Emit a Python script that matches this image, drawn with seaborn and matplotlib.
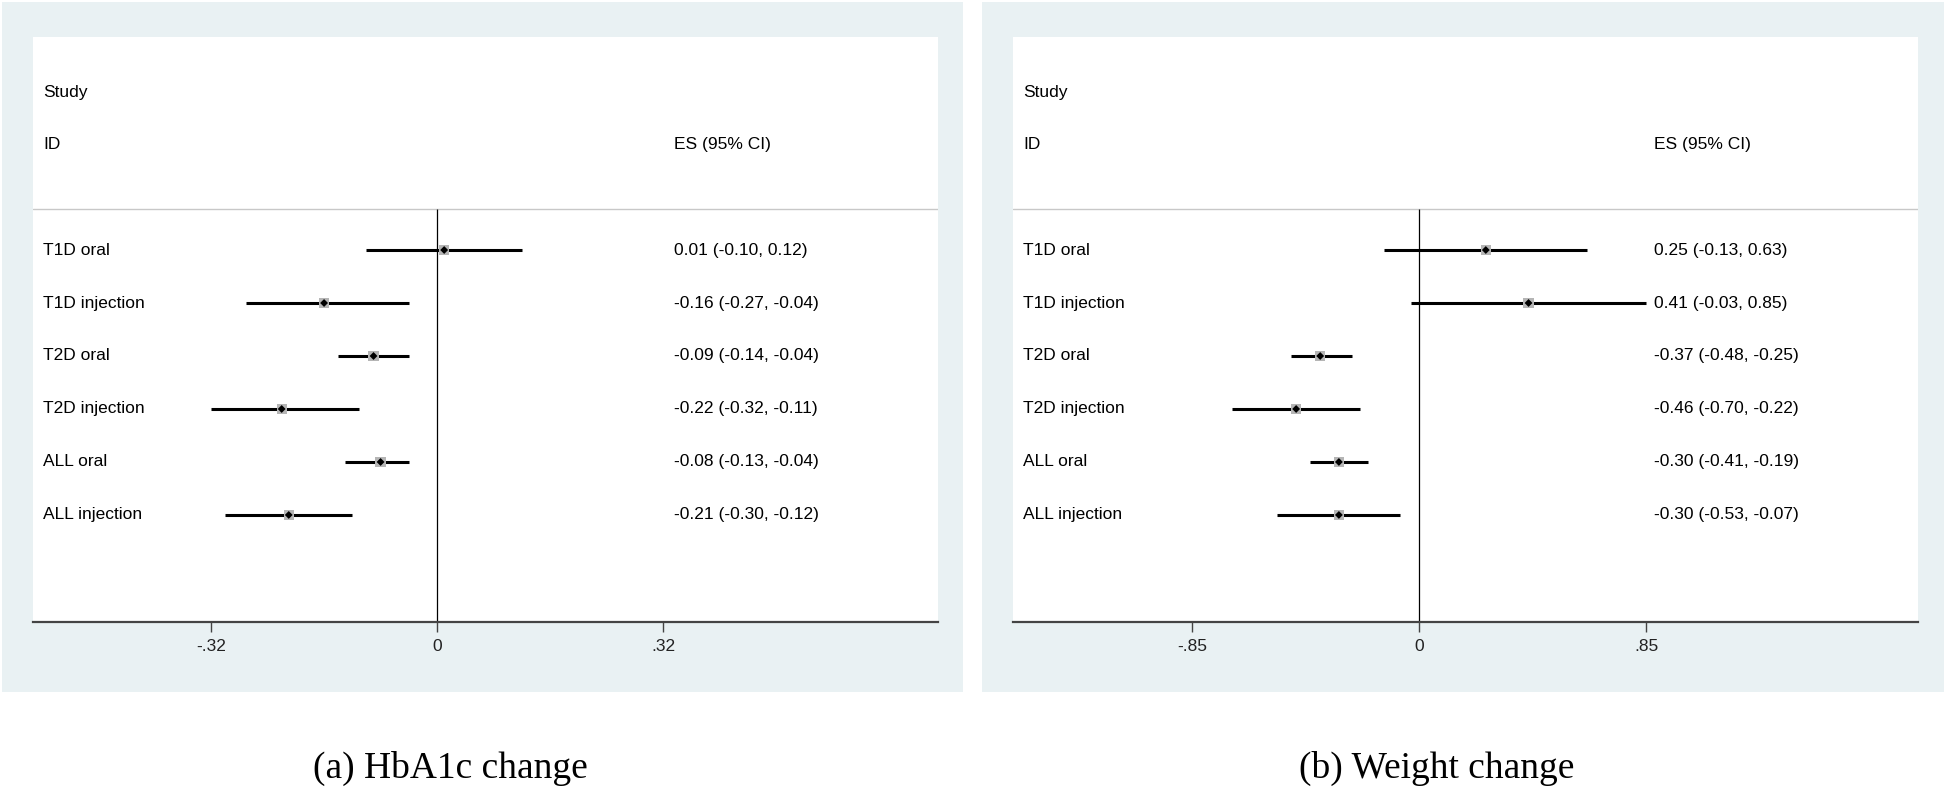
import numpy as np
import pandas as pd
import matplotlib
matplotlib.use('Agg')
import matplotlib.pyplot as plt
from matplotlib.patches import Rectangle
import seaborn as sns

# 数据
studies = ['T1D oral', 'T1D injection', 'T2D oral', 'T2D injection', 'ALL oral', 'ALL injection']

hba1c_es = [0.01, -0.16, -0.09, -0.22, -0.08, -0.21]
hba1c_lo = [-0.10, -0.27, -0.14, -0.32, -0.13, -0.30]
hba1c_hi = [0.12, -0.04, -0.04, -0.11, -0.04, -0.12]
hba1c_ticks = [-0.32, 0, 0.32]
hba1c_ticklabels = ['-.32', '0', '.32']

weight_es = [0.25, 0.41, -0.37, -0.46, -0.30, -0.30]
weight_lo = [-0.13, -0.03, -0.48, -0.70, -0.41, -0.53]
weight_hi = [0.63, 0.85, -0.25, -0.22, -0.19, -0.07]
weight_ticks = [-0.85, 0, 0.85]
weight_ticklabels = ['-.85', '0', '.85']

captions = ['(a) HbA1c change', '(b) Weight change']

sns.set_theme(style='white')
plt.rcParams['font.family'] = ['Liberation Sans', 'DejaVu Sans']
plt.rcParams['text.color'] = 'black'

W, H = 1946, 788
BG = '#e9f1f3'
FS = 12.5


def px_box(x0, y0, x1, y1):
    """像素坐标 -> figure 坐标"""
    return [x0 / W, 1 - y1 / H, (x1 - x0) / W, (y1 - y0) / H]


def draw_forest(ax, es, lo, hi, ticks, ticklabels, xlim):
    df = pd.DataFrame({'study': studies, 'es': es, 'lo': lo, 'hi': hi,
                       'row': np.arange(len(studies))})
    sep = -0.77

    ax.axhline(sep, color='#c8c8c8', lw=1.0, zorder=1)
    ax.vlines(0, sep, 7.02, color='black', lw=0.9, zorder=2)
    ax.hlines(df['row'], df['lo'], df['hi'], color='black', lw=2.2, zorder=3)
    sns.scatterplot(data=df, x='es', y='row', marker='s', s=55, color='#b5b5b5',
                    edgecolor='none', ax=ax, zorder=4, legend=False)
    sns.scatterplot(data=df, x='es', y='row', marker='D', s=16, color='black',
                    edgecolor='none', ax=ax, zorder=5, legend=False)
    ax.set_xlim(*xlim)
    ax.set_ylim(7.02, -4.02)

    tr = ax.get_yaxis_transform()
    ax.text(0.011, -2.98, 'Study', transform=tr, fontsize=FS, va='center')
    ax.text(0.011, -2.0, 'ID', transform=tr, fontsize=FS, va='center')
    ax.text(0.708, -2.0, 'ES (95% CI)', transform=tr, fontsize=FS, va='center')
    for _, r in df.iterrows():
        ax.text(0.011, r['row'], r['study'], transform=tr, fontsize=FS, va='center')
        ax.text(0.708, r['row'], f"{r['es']:.2f} ({r['lo']:.2f}, {r['hi']:.2f})",
                transform=tr, fontsize=FS, va='center')

    ax.set_xticks(ticks)
    ax.set_xticklabels(ticklabels, fontsize=FS, color='#222222')
    ax.set_yticks([])
    ax.set_xlabel('')
    ax.set_ylabel('')
    for s in ['top', 'left', 'right']:
        ax.spines[s].set_visible(False)
    ax.spines['bottom'].set_color('#444444')
    ax.spines['bottom'].set_linewidth(1.6)
    ax.tick_params(axis='x', direction='out', length=7, width=1.0, color='#444444',
                   bottom=True, pad=5)
    ax.set_facecolor('white')


fig = plt.figure(figsize=(W / 100, H / 100), dpi=100, facecolor='white')

# 背景面板
for x0, x1 in [(2, 963), (982, 1944)]:
    b = px_box(x0, 2, x1, 692)
    fig.patches.append(Rectangle((b[0], b[1]), b[2], b[3], transform=fig.transFigure,
                                 facecolor=BG, edgecolor='none', zorder=-5))

ax1 = fig.add_axes(px_box(33, 37, 938, 622))
ax2 = fig.add_axes(px_box(1013, 37, 1918, 622))
ax1.set_zorder(2)
ax2.set_zorder(2)

draw_forest(ax1, hba1c_es, hba1c_lo, hba1c_hi, hba1c_ticks, hba1c_ticklabels,
            (-0.572, 0.709))
draw_forest(ax2, weight_es, weight_lo, weight_hi, weight_ticks, weight_ticklabels,
            (-1.520, 1.868))

fig.text(450 / W, 1 - 778 / H, captions[0], ha='center', va='baseline', color='black',
         fontsize=27, family=['Liberation Serif', 'DejaVu Serif'])
fig.text(1437 / W, 1 - 778 / H, captions[1], ha='center', va='baseline', color='black',
         fontsize=27, family=['Liberation Serif', 'DejaVu Serif'])

fig.savefig('out.png', dpi=100, facecolor='white')
